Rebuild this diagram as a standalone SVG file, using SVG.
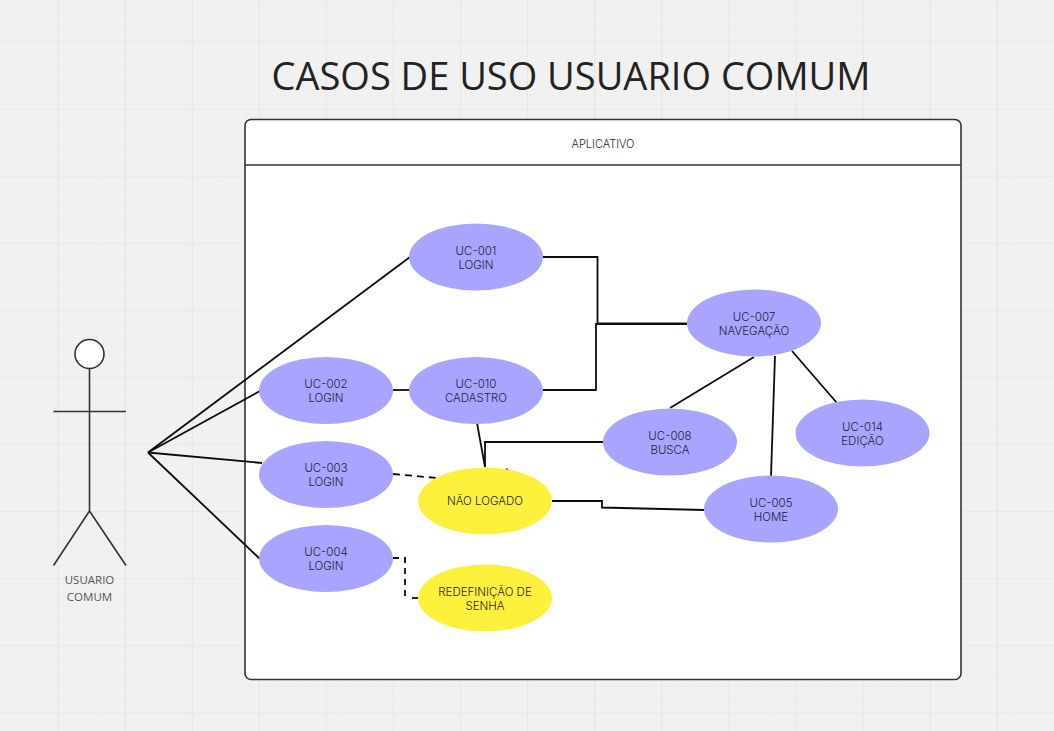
<svg xmlns="http://www.w3.org/2000/svg" width="1054" height="731" viewBox="0 0 1054 731">
<style>
.t{font-family:"Open Sans","Noto Sans",sans-serif;fill:#222;text-anchor:middle}
.n{font-family:"Inter","Noto Sans",sans-serif;font-size:11.5px;font-weight:300;fill:#1f1f33;text-anchor:middle}
.u{fill:#a9a4ff}.y{fill:#fdf03c}
.c{fill:none;stroke:#0c0c0c;stroke-width:1.8}
.a{fill:none;stroke:#333;stroke-width:1.6}
.minor{stroke:#ebebeb;stroke-width:.8}
.major{stroke:#dfdfdf;stroke-width:1.2}
</style>
<defs>
<pattern id="gMinor" width="13.42" height="13.42" patternUnits="userSpaceOnUse" x="3.8" y="1.3"><path d="M0 0V13.42M0 0H13.42" class="minor"/></pattern>
<pattern id="gMajor" width="67.1" height="67.1" patternUnits="userSpaceOnUse" x="57.5" y="41.5"><path d="M0 0V67.1M0 0H67.1" class="major"/></pattern>
</defs>
<rect id="background" width="1054" height="731" fill="#f1f1f1"/>
<rect width="1054" height="731" fill="url(#gMinor)"/>
<rect width="1054" height="731" fill="url(#gMajor)"/>
<text class="t" x="571" y="90" font-size="38">CASOS DE USO USUARIO COMUM</text>
<g id="aplicativo">
<rect x="245" y="119.500" width="716" height="560" rx="6" fill="#fff" stroke="#333" stroke-width="1.6"/>
<path d="M245 165H961" class="a"/>
<text class="n" x="603" y="148" style="font-size:11px">APLICATIVO</text>
</g>
<g id="ator">
<circle cx="89.500" cy="354" r="14.500" fill="#fff" stroke="#333" stroke-width="1.600"/>
<path class="a" d="M89.500 368.500V511M53.500 411.500H126M89.500 511L53.500 565.500M89.500 511L126 565.500"/>
<text class="t" x="89.500" y="584" font-size="11.500" style="fill:#555">USUARIO</text>
<text class="t" x="89.500" y="601" font-size="11.500" style="fill:#555">COMUM</text>
</g>
<g id="conectores">
<path class="c" d="M148 452.500L410 257"/>
<path class="c" d="M148 452.500L260 391"/>
<path class="c" d="M148 452.500L262 463"/>
<path class="c" d="M148 452.500L260 559"/>
<path class="c" d="M393 390H410"/>
<path class="c" d="M543 257H597.500V323.500H687"/>
<path class="c" d="M543 390H596V324H687"/>
<path class="c" d="M477 423L485 467"/>
<path class="c" d="M603 442H485V467"/>
<path class="c" d="M552 501H602V507.500L704 510"/>
<path class="c" d="M754 357L670 408"/>
<path class="c" d="M775 356L771 476"/>
<path class="c" d="M792 351L837 403"/>
<path class="c" stroke-dasharray="7 5" d="M393 474L437 478"/>
<path class="c" d="M506 469L508 470"/>
<path class="c" stroke-dasharray="6 5" d="M393 558H405V596"/>
<path class="c" d="M412 598H418"/>
</g>
<g id="uc-001"><ellipse class="u" cx="476" cy="257" rx="67" ry="33.500"/><text class="n" x="476" y="255">UC-001</text><text class="n" x="476" y="269">LOGIN</text></g>
<g id="uc-002"><ellipse class="u" cx="326" cy="390.500" rx="67" ry="33.500"/><text class="n" x="326" y="388">UC-002</text><text class="n" x="326" y="402">LOGIN</text></g>
<g id="uc-010"><ellipse class="u" cx="476" cy="390.500" rx="67" ry="33.500"/><text class="n" x="476" y="388">UC-010</text><text class="n" x="476" y="402">CADASTRO</text></g>
<g id="uc-003"><ellipse class="u" cx="326" cy="474.500" rx="67" ry="33.500"/><text class="n" x="326" y="472">UC-003</text><text class="n" x="326" y="486">LOGIN</text></g>
<g id="uc-004"><ellipse class="u" cx="326" cy="558.500" rx="67" ry="33.500"/><text class="n" x="326" y="556">UC-004</text><text class="n" x="326" y="570">LOGIN</text></g>
<g id="nao-logado"><ellipse class="y" cx="485" cy="501" rx="67" ry="33.500"/><text class="n" x="485" y="505">NÃO LOGADO</text></g>
<g id="redefinicao"><ellipse class="y" cx="485" cy="598" rx="67" ry="33.500"/><text class="n" x="485" y="596">REDEFINIÇÃO DE</text><text class="n" x="485" y="610">SENHA</text></g>
<g id="uc-007"><ellipse class="u" cx="754" cy="323" rx="67" ry="33.500"/><text class="n" x="754" y="321">UC-007</text><text class="n" x="754" y="335">NAVEGAÇÃO</text></g>
<g id="uc-008"><ellipse class="u" cx="670" cy="442" rx="67" ry="33.500"/><text class="n" x="670" y="440">UC-008</text><text class="n" x="670" y="454">BUSCA</text></g>
<g id="uc-005"><ellipse class="u" cx="771" cy="509" rx="67" ry="33.500"/><text class="n" x="771" y="507">UC-005</text><text class="n" x="771" y="521">HOME</text></g>
<g id="uc-014"><ellipse class="u" cx="862.500" cy="433" rx="67" ry="33.500"/><text class="n" x="862.500" y="431">UC-014</text><text class="n" x="862.500" y="445">EDIÇÃO</text></g>
</svg>
